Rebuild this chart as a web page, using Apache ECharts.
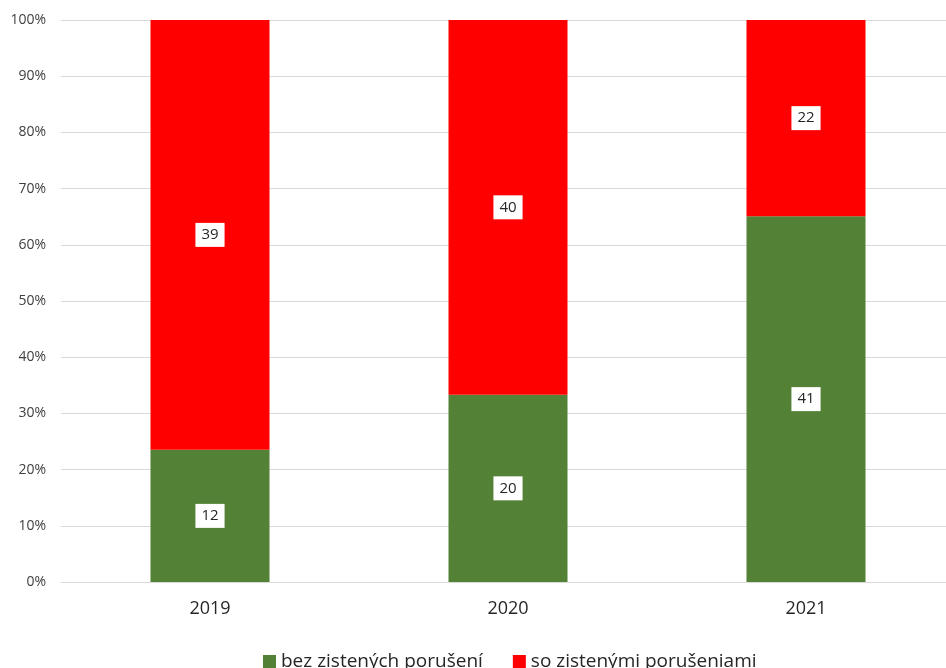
<!DOCTYPE html>
<html>
<head>
<meta charset="utf-8">
<script src="https://cdn.jsdelivr.net/npm/echarts@6/dist/echarts.min.js"></script>
<style>
  html, body { margin: 0; padding: 0; background: #fff; overflow: hidden; }
  #chart { width: 955px; height: 668px; }
</style>
</head>
<body>
<div id="chart"></div>
<script>
var years = ['2019', '2020', '2021'];
var bezPoruseni = [12, 20, 41];
var soPoruseniami = [39, 40, 22];

// percentages of the yearly total (100% stacked)
function share(arr, i) {
    return arr[i] / (bezPoruseni[i] + soPoruseniami[i]) * 100;
}
var bezPct = years.map(function (y, i) { return share(bezPoruseni, i); });
var soPct = years.map(function (y, i) { return share(soPoruseniami, i); });

var labelStyle = {
    show: true,
    position: 'inside',
    color: '#262626',
    fontSize: 15,
    fontFamily: 'Open Sans',
    backgroundColor: '#fff',
    padding: [5, 6, 4, 6]
};

var myChart = echarts.init(document.getElementById('chart'));
var option = {
    animation: false,
    textStyle: { fontFamily: 'Open Sans' },
    grid: {
        left: 61,
        right: 0,
        top: 20,
        bottom: 86
    },
    legend: {
        top: 647,
        left: 258,
        itemGap: 30,
        itemWidth: 13,
        itemHeight: 13,
        icon: 'rect',
        textStyle: { fontSize: 19, color: '#262626', fontFamily: 'Open Sans' },
        data: ['bez zistených porušení', 'so zistenými porušeniami']
    },
    xAxis: {
        type: 'category',
        data: years,
        axisTick: { show: false },
        axisLine: { lineStyle: { color: '#d9d9d9' } },
        axisLabel: { fontSize: 18, color: '#262626', margin: 18 }
    },
    yAxis: {
        type: 'value',
        min: 0,
        max: 100,
        interval: 10,
        axisLabel: {
            formatter: '{value}%',
            fontSize: 14,
            color: '#404040',
            margin: 15
        },
        splitLine: { lineStyle: { color: '#d9d9d9' } }
    },
    series: [
        {
            name: 'bez zistených porušení',
            type: 'bar',
            stack: 'total',
            barWidth: 119,
            itemStyle: { color: '#538135' },
            label: Object.assign({}, labelStyle, {
                formatter: function (p) { return bezPoruseni[p.dataIndex]; }
            }),
            data: bezPct
        },
        {
            name: 'so zistenými porušeniami',
            type: 'bar',
            stack: 'total',
            barWidth: 119,
            itemStyle: { color: '#ff0000' },
            label: Object.assign({}, labelStyle, {
                formatter: function (p) { return soPoruseniami[p.dataIndex]; }
            }),
            data: soPct
        }
    ]
};
myChart.setOption(option);
</script>
</body>
</html>
